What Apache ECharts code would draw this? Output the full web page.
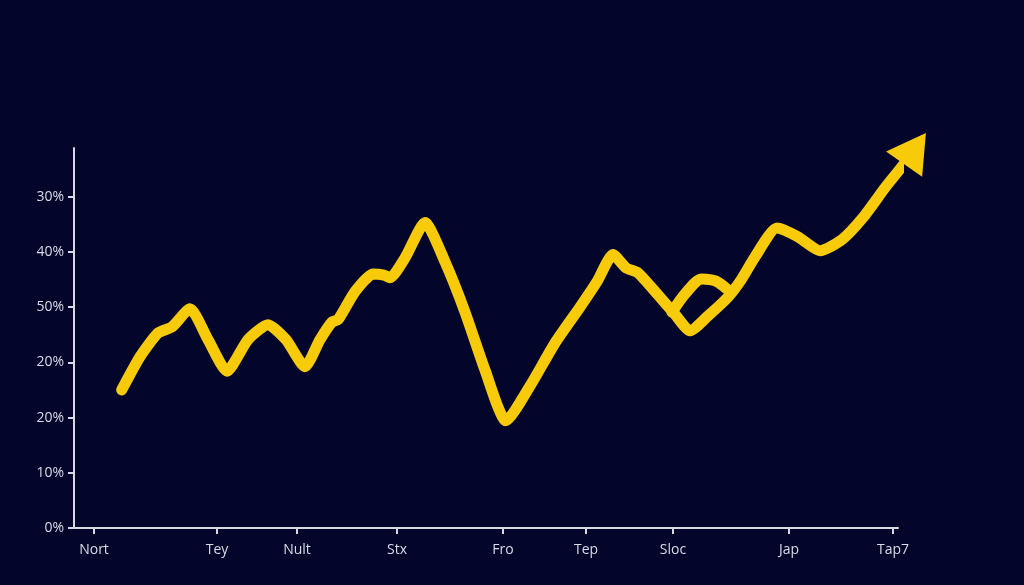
<!DOCTYPE html>
<html>
<head>
<meta charset="utf-8">
<script src="https://cdn.jsdelivr.net/npm/echarts@6/dist/echarts.min.js"></script>
<style>
html,body{margin:0;padding:0;background:#03062a;}
#chart{width:1024px;height:585px;}
</style>
</head>
<body>
<div id="chart"></div>
<script>
// Tick labels (as printed in the reference)
const xTickLabels = ["Nort", "Tey", "Nult", "Stx", "Fro", "Tep", "Sloc", "Jap", "Tap7"];
const xTickValues = [20, 143, 223, 323, 429, 512, 599, 715, 819];
const yTickLabels = ["0%", "10%", "20%", "20%", "50%", "40%", "30%"];
const yTickValues = [0, 10, 20, 30, 40, 50, 60];

// Main line path: x positions along the axis and y values
const lineX = [47.7, 66, 84, 98, 116, 134, 153, 174, 194, 212, 231, 246, 258, 264, 281, 299, 310, 316, 331, 351,
  371, 391, 411, 432, 456, 481, 506, 523, 539, 552, 564, 584, 600, 616, 634, 654, 667, 681,
  703, 724, 746, 768, 789, 811, 830];
const lineY = [25.0, 31.0, 35.3, 36.4, 39.7, 34.1, 28.4, 34.1, 36.8, 34.1, 29.2, 34.1, 37.3, 37.7, 42.8, 46.0, 45.8, 45.3, 48.9, 55.3,
  48.2, 39.1, 28.6, 19.4, 25.7, 33.5, 40.0, 44.6, 49.5, 47.1, 46.2, 42.2, 38.9, 35.7, 38.4, 41.8, 44.9, 49.1,
  54.3, 52.7, 50.2, 52.2, 56.2, 61.6, 65.9];
// Small looping branch near "Sloc"
const loopX = [598, 612, 628, 642, 654];
const loopY = [39.1, 42.6, 45.1, 44.7, 43.1];
// Arrow head position
const arrowPoint = [841, 68.7];

const yellow = '#F8CB0A';
const data = lineX.map((x, i) => [x, lineY[i]]);
data.push({
  value: arrowPoint,
  symbol: 'triangle',
  symbolSize: [44, 38],
  symbolRotate: -35,
  itemStyle: { color: yellow }
});
const loopData = loopX.map((x, i) => [x, loopY[i]]);

const lineStyle = { color: yellow, width: 11, cap: 'round', join: 'round' };

const chart = echarts.init(document.getElementById('chart'));
chart.setOption({
  backgroundColor: '#03062a',
  animation: false,
  grid: { left: 74, right: 126, top: 148, bottom: 57 },
  xAxis: {
    type: 'value',
    min: 0,
    max: 824,
    splitLine: { show: false },
    axisLine: { show: true, lineStyle: { color: '#d6d8e4', width: 2 } },
    axisTick: { show: true, customValues: xTickValues, length: 6, lineStyle: { color: '#d6d8e4', width: 2 } },
    axisLabel: {
      customValues: xTickValues,
      color: '#d9dbe6',
      fontSize: 14,
      fontFamily: 'Open Sans',
      margin: 15,
      formatter: v => {
        const i = xTickValues.indexOf(v);
        return i >= 0 ? xTickLabels[i] : '';
      }
    }
  },
  yAxis: {
    type: 'value',
    min: 0,
    max: 68.8,
    splitLine: { show: false },
    axisLine: { show: true, lineStyle: { color: '#d6d8e4', width: 2 } },
    axisTick: { show: true, customValues: yTickValues, length: 6, lineStyle: { color: '#d6d8e4', width: 2 } },
    axisLabel: {
      customValues: yTickValues,
      color: '#d9dbe6',
      fontSize: 14,
      fontFamily: 'Open Sans',
      margin: 10,
      formatter: v => {
        const i = yTickValues.indexOf(v);
        return i >= 0 ? yTickLabels[i] : '';
      }
    }
  },
  series: [{
    type: 'line',
    data: loopData,
    clip: false,
    smooth: 0.3,
    symbol: 'none',
    lineStyle: lineStyle
  }, {
    type: 'line',
    data: data,
    clip: false,
    smooth: 0.2,
    symbol: 'none',
    showSymbol: true,
    lineStyle: lineStyle,
    itemStyle: { color: yellow }
  }]
});
</script>
</body>
</html>
